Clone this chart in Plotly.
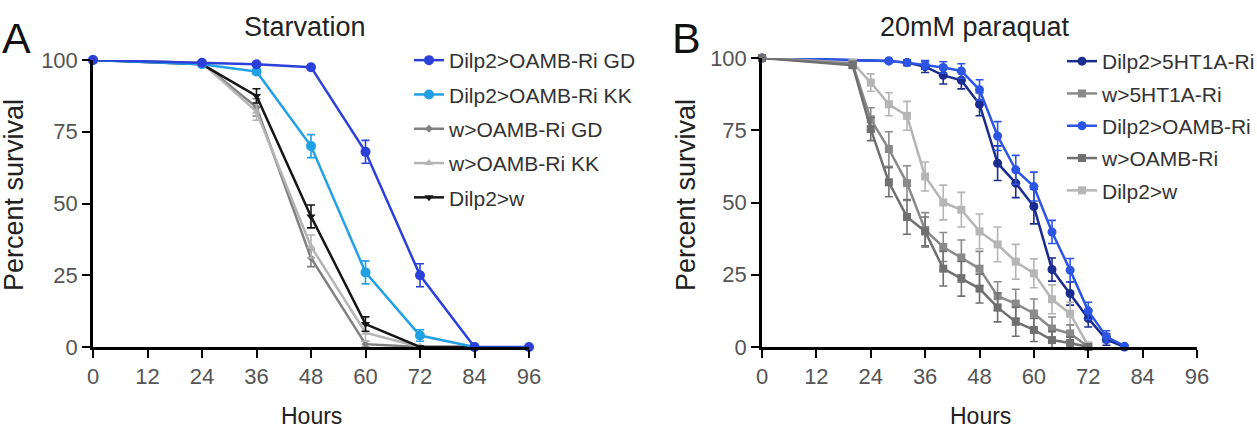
import plotly.graph_objects as go

# ---------------- Data: Panel A (Starvation) ----------------
hours_A = [0, 24, 36, 48, 60, 72, 84, 96]
a_names = ["Dilp2>OAMB-Ri GD", "Dilp2>OAMB-Ri KK", "w>OAMB-Ri GD", "w>OAMB-Ri KK", "Dilp2>w"]
a_gd = [100, 99, 98.5, 97.5, 68, 25, 0, 0]
a_gd_err = [0, 0.5, 0.5, 0.5, 4, 4, 0, 0]
a_kk = [100, 98.5, 96, 70, 26, 4, 0]
a_kk_err = [0, 0.5, 1, 4, 4, 2, 0]
a_wgd = [100, 99, 83.5, 31, 1, 0, 0]
a_wgd_err = [0, 0.5, 3, 3, 1, 0, 0]
a_wkk = [100, 99, 82, 35, 5, 0, 0]
a_wkk_err = [0, 0.5, 3, 4, 3, 0, 0]
a_dw = [100, 98.5, 87.5, 45.5, 8, 0, 0]
a_dw_err = [0, 0.5, 2.5, 4, 2.5, 0, 0]

# ---------------- Data: Panel B (20mM paraquat) ----------------
hours_B_blue = [0, 28, 32, 36, 40, 44, 48, 52, 56, 60, 64, 68, 72, 76, 80]
hours_B_gray = [0, 20, 24, 28, 32, 36, 40, 44, 48, 52, 56, 60, 64, 68, 72]
b_names = ["Dilp2>5HT1A-Ri", "w>5HT1A-Ri", "Dilp2>OAMB-Ri", "w>OAMB-Ri", "Dilp2>w"]
b_d5 = [100, 99, 98.4, 97, 94, 92.3, 84, 63.6, 56.7, 48.6, 26.8, 18.5, 9.9, 2.6, 0]
b_d5_err = [0, 0.5, 1, 2, 3, 3, 4, 6, 5, 6, 4, 4, 3, 2, 0]
b_do = [100, 99, 98.4, 97.6, 96.7, 95.5, 89, 73, 61.3, 55.5, 39.8, 26.6, 12.5, 3.6, 0.3]
b_do_err = [0, 0.5, 1, 1.5, 2, 2.5, 3.5, 5, 5, 5, 4, 4, 3, 2, 0]
b_w5 = [100, 98, 78.8, 68.5, 56.7, 40.5, 34.6, 31, 27.1, 17.6, 15, 11.6, 6.4, 4.7, 0]
b_w5_err = [0, 1, 4, 6, 6, 6, 5, 6, 6, 5, 5, 5, 4, 3, 0]
b_wo = [100, 97.5, 75.4, 57, 45, 40, 27.1, 23.6, 20.2, 13.7, 8.7, 5.9, 2.4, 1.4, 0]
b_wo_err = [0, 1, 4, 5, 6, 5, 6, 6, 5, 5, 5, 4, 3, 2, 0]
b_dw = [100, 98.4, 91.5, 84, 80, 59, 50, 47.5, 40, 35.5, 29.5, 25.5, 16.5, 11.5, 0.5]
b_dw_err = [0, 1, 3, 4, 5, 5, 6, 6, 6, 6, 6, 5, 5, 4, 1]

x_ticks = [0, 12, 24, 36, 48, 60, 72, 84, 96]
y_ticks = [0, 25, 50, 75, 100]

FONT = "Liberation Sans, Arial, sans-serif"
W, H = 1257, 432

fig = go.Figure()


def add(x, y, err, name, color, symbol, size, xa, ya, legend, rank, lw=2.5):
    fig.add_trace(go.Scatter(
        x=x[:len(y)], y=y, name=name, mode="lines+markers",
        line=dict(color=color, width=lw),
        marker=dict(color=color, symbol=symbol, size=size, line=dict(width=0)),
        error_y=dict(type="data", array=err, color=color, thickness=1.6, width=4),
        xaxis=xa, yaxis=ya, legend=legend, legendrank=rank, legendgroup=name + legend,
        cliponaxis=False,
    ))


# Panel A
add(hours_A, a_wgd, a_wgd_err, a_names[2], "#808080", "diamond", 6, "x", "y", "legend", 3)
add(hours_A, a_wkk, a_wkk_err, a_names[3], "#b4b4b4", "triangle-up", 8, "x", "y", "legend", 4)
add(hours_A, a_dw, a_dw_err, a_names[4], "#161616", "triangle-down", 8, "x", "y", "legend", 5)
add(hours_A, a_kk, a_kk_err, a_names[1], "#22a0e6", "circle", 10, "x", "y", "legend", 2)
add(hours_A, a_gd, a_gd_err, a_names[0], "#2b40d9", "circle", 10, "x", "y", "legend", 1)

# Panel B
add(hours_B_blue, b_d5, b_d5_err, b_names[0], "#1b2c8f", "circle", 9, "x2", "y2", "legend2", 1)
add(hours_B_blue, b_do, b_do_err, b_names[2], "#2c55e6", "circle", 9, "x2", "y2", "legend2", 3)
add(hours_B_gray, b_dw, b_dw_err, b_names[4], "#b5b5b5", "square", 8, "x2", "y2", "legend2", 5)
add(hours_B_gray, b_w5, b_w5_err, b_names[1], "#8a8a8a", "square", 8, "x2", "y2", "legend2", 2)
add(hours_B_gray, b_wo, b_wo_err, b_names[3], "#707070", "square", 8, "x2", "y2", "legend2", 4)

axis_common = dict(
    showline=True, linecolor="black", linewidth=2.5, mirror=False,
    ticks="outside", ticklen=8, tickwidth=2, tickcolor="black",
    tickfont=dict(family=FONT, size=22, color="#555555"),
    showgrid=False, zeroline=False, fixedrange=True, automargin=False,
)

xA = (93 / W, 529 / W)
xB = (762 / W, 1197 / W)
yA = ((H - 347) / H, (H - 60) / H)
yB = ((H - 347) / H, (H - 58) / H)

fig.update_layout(
    width=W, height=H,
    margin=dict(l=0, r=0, t=0, b=0, pad=0, autoexpand=False),
    paper_bgcolor="white", plot_bgcolor="white",
    font=dict(family=FONT, color="#333333"),
    xaxis=dict(domain=list(xA), range=[0, 96], tickvals=x_ticks, anchor="y", **axis_common),
    yaxis=dict(domain=list(yA), range=[0, 100], tickvals=y_ticks, anchor="x", **axis_common),
    xaxis2=dict(domain=list(xB), range=[0, 96], tickvals=x_ticks, anchor="y2", **axis_common),
    yaxis2=dict(domain=list(yB), range=[0, 100], tickvals=y_ticks, anchor="x2", **axis_common),
    legend=dict(x=409 / W, xanchor="left", y=1 - 40 / H, yanchor="top",
                font=dict(family=FONT, size=21, color="#333333"),
                bgcolor="rgba(0,0,0,0)", traceorder="grouped", tracegroupgap=4),
    legend2=dict(x=1062 / W, xanchor="left", y=1 - 41 / H, yanchor="top",
                 font=dict(family=FONT, size=21, color="#333333"),
                 bgcolor="rgba(0,0,0,0)", traceorder="grouped", tracegroupgap=2),
    showlegend=True,
)

ann = []
def text(x, y, s, size, color="#222222", angle=0, xanchor="center", yanchor="middle"):
    ann.append(dict(x=x / W, y=1 - y / H, xref="paper", yref="paper", text=s, showarrow=False,
                    font=dict(family=FONT, size=size, color=color), textangle=angle,
                    xanchor=xanchor, yanchor=yanchor))

text(0, 38, "A", 43, color="#111111", xanchor="left")
text(670, 38, "B", 43, color="#111111", xanchor="left")
text(305, 27, "Starvation", 27)
text(975, 27, "20mM paraquat", 27)
text(311, 416, "Hours", 23)
text(980, 416, "Hours", 23)
text(14, 195, "Percent survival", 27, angle=-90)
text(686, 195, "Percent survival", 27, angle=-90)
fig.update_layout(annotations=ann)

fig.write_html("out.html")
